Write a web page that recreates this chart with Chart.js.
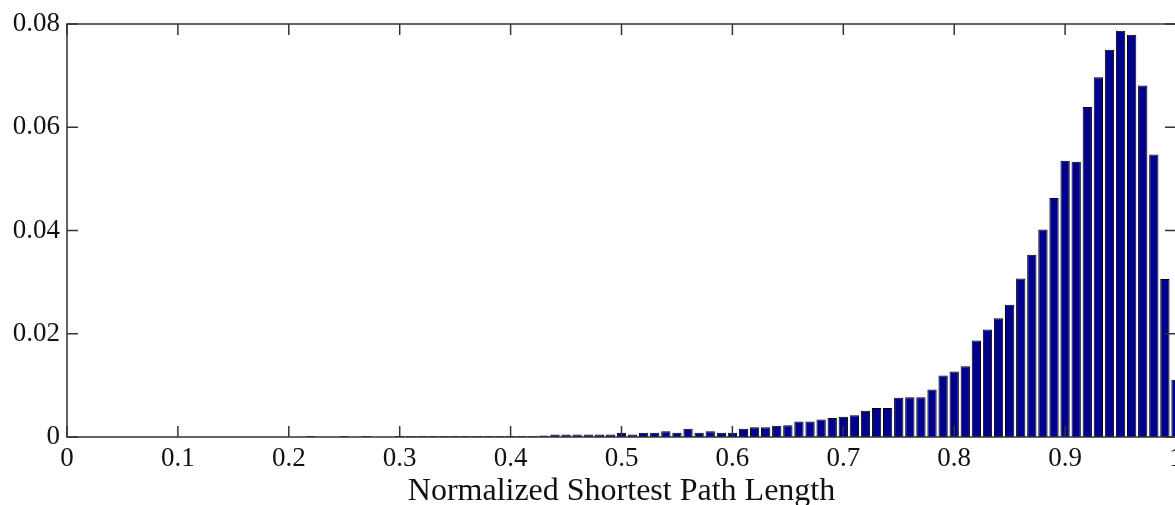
<!DOCTYPE html>
<html>
<head>
<meta charset="utf-8">
<script src="https://cdn.jsdelivr.net/npm/chart.js@4.4.1/dist/chart.umd.min.js"></script>
<style>
  html, body { margin: 0; padding: 0; background: #fff; }
  #frame { width: 1175px; height: 505px; overflow: hidden; position: relative; }
  #wrap { width: 1200px; height: 505px; position: absolute; left: 0; top: 0; }
</style>
</head>
<body>
<div id="frame"><div id="wrap"><canvas id="histChart"></canvas></div></div>
<script>
// bin centres of the histogram (width 0.01)
const binCenters = [
  0.00, 0.01, 0.02, 0.03, 0.04, 0.05, 0.06, 0.07, 0.08, 0.09,
  0.10, 0.11, 0.12, 0.13, 0.14, 0.15, 0.16, 0.17, 0.18, 0.19,
  0.20, 0.21, 0.22, 0.23, 0.24, 0.25, 0.26, 0.27, 0.28, 0.29,
  0.30, 0.31, 0.32, 0.33, 0.34, 0.35, 0.36, 0.37, 0.38, 0.39,
  0.40, 0.41, 0.42, 0.43, 0.44, 0.45, 0.46, 0.47, 0.48, 0.49,
  0.50, 0.51, 0.52, 0.53, 0.54, 0.55, 0.56, 0.57, 0.58, 0.59,
  0.60, 0.61, 0.62, 0.63, 0.64, 0.65, 0.66, 0.67, 0.68, 0.69,
  0.70, 0.71, 0.72, 0.73, 0.74, 0.75, 0.76, 0.77, 0.78, 0.79,
  0.80, 0.81, 0.82, 0.83, 0.84, 0.85, 0.86, 0.87, 0.88, 0.89,
  0.90, 0.91, 0.92, 0.93, 0.94, 0.95, 0.96, 0.97, 0.98, 0.99,
  1.00
];

// relative frequency per bin
const frequency = [
  0, 0, 0, 0, 0, 0, 0, 0, 0, 0,
  0, 0, 0, 0, 0, 0, 0, 0, 0, 0,
  0, 0, 0.0002, 0, 0, 0.0002, 0, 0.0002, 0, 0,
  0.0002, 0.0002, 0.0002, 0.0002, 0.0002, 0.0002, 0.0002, 0.0002, 0.0002, 0.0002,
  0.0002, 0.0002, 0.0002, 0.0003, 0.0005, 0.0005, 0.0005, 0.0005, 0.0005, 0.0005,
  0.0008, 0.0005, 0.0008, 0.0008, 0.0011, 0.0008, 0.0016, 0.0008, 0.0011, 0.0008,
  0.0008, 0.0016, 0.0019, 0.0019, 0.0022, 0.0023, 0.0030, 0.0030, 0.0034, 0.0037,
  0.0039, 0.0042, 0.0051, 0.0056, 0.0056, 0.0076, 0.0077, 0.0077, 0.0092, 0.0119,
  0.0127, 0.0137, 0.0187, 0.0208, 0.0230, 0.0256, 0.0307, 0.0353, 0.0402, 0.0463,
  0.0535, 0.0533, 0.0639, 0.0697, 0.0750, 0.0787, 0.0779, 0.0681, 0.0547, 0.0306,
  0.0111
];

const xTicks = [0, 0.1, 0.2, 0.3, 0.4, 0.5, 0.6, 0.7, 0.8, 0.9, 1];
const yTicks = [0, 0.02, 0.04, 0.06, 0.08];

const serif = { family: '"Liberation Serif", "Times New Roman", serif', size: 27 };

// box round the plot with inward tick marks on all four sides
const axesBox = {
  id: 'axesBox',
  afterDatasetsDraw(chart) {
    const { ctx, chartArea: a, scales: { x, y } } = chart;
    const len = 11;
    ctx.save();
    ctx.strokeStyle = '#333';
    ctx.lineWidth = 1.5;
    ctx.strokeRect(a.left, a.top, a.right - a.left, a.bottom - a.top);
    ctx.beginPath();
    x.ticks.forEach(t => {
      const px = x.getPixelForValue(t.value);
      ctx.moveTo(px, a.bottom); ctx.lineTo(px, a.bottom - len);
      ctx.moveTo(px, a.top); ctx.lineTo(px, a.top + len);
    });
    y.ticks.forEach(t => {
      const py = y.getPixelForValue(t.value);
      ctx.moveTo(a.left, py); ctx.lineTo(a.left + len, py);
      ctx.moveTo(a.right, py); ctx.lineTo(a.right - len, py);
    });
    ctx.stroke();
    ctx.restore();
  }
};

const histChart = new Chart(document.getElementById('histChart'), {
  type: 'bar',
  data: {
    datasets: [{
      data: binCenters.map((c, i) => ({ x: c, y: frequency[i] })),
      backgroundColor: '#00008c',
      borderColor: '#000',
      borderWidth: 1,
      barPercentage: 0.84,
      categoryPercentage: 1
    }]
  },
  options: {
    responsive: true,
    maintainAspectRatio: false,
    animation: false,
    layout: { padding: { top: 24, right: 24, left: 0, bottom: 0 } },
    plugins: {
      legend: { display: false },
      tooltip: { enabled: false }
    },
    scales: {
      x: {
        type: 'linear',
        min: 0,
        max: 1,
        offset: false,
        grid: { display: false, drawTicks: false },
        border: { display: false },
        afterBuildTicks: s => { s.ticks = xTicks.map(v => ({ value: v })); },
        afterFit: s => { s.height = 68; },
        ticks: {
          autoSkip: false,
          maxRotation: 0,
          padding: 6,
          color: '#111',
          font: serif,
          callback: v => String(v)
        },
        title: {
          display: true,
          text: 'Normalized Shortest Path Length',
          color: '#111',
          font: { family: serif.family, size: 32 },
          padding: { top: 0, bottom: -6 }
        }
      },
      y: {
        min: 0,
        max: 0.08,
        grid: { display: false, drawTicks: false },
        border: { display: false },
        afterBuildTicks: s => { s.ticks = yTicks.map(v => ({ value: v })); },
        afterFit: s => { s.width = 67; },
        ticks: {
          padding: 7,
          color: '#111',
          font: serif,
          callback: v => String(v)
        }
      }
    }
  },
  plugins: [axesBox]
});
</script>
</body>
</html>
